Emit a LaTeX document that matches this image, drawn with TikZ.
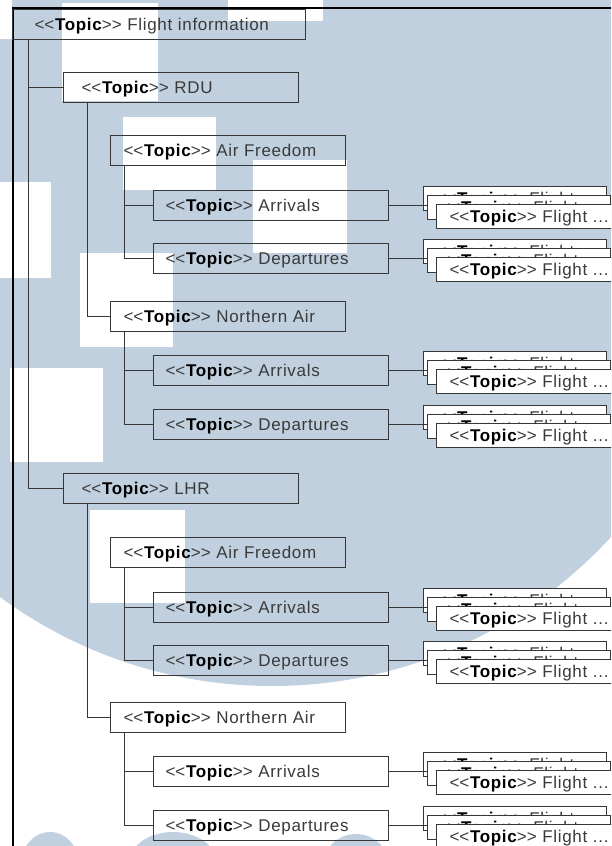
\documentclass[tikz,border=0pt]{standalone}
\usepackage{fontspec}
\setmainfont{Liberation Sans}[LetterSpace=4]
\definecolor{wmblue}{RGB}{192,208,222}
\definecolor{boxline}{RGB}{55,55,55}
\definecolor{txtgray}{RGB}{58,58,58}
\newcommand\labelfont{\fontsize{17}{20}\selectfont}
\newcommand\topiclabel[1]{\mbox{<\kern0pt<\textbf{\textcolor{black}{Topic}}>\kern0pt> #1}}

\tikzset{
  topicbox/.style={draw=boxline, line width=1pt, rectangle, minimum height=30pt,
    inner ysep=0pt, text height=13pt, text depth=1pt, align=left,
    font=\labelfont, text=txtgray},
  rootbox/.style={topicbox, text width=249pt, inner xsep=22pt},
  airportbox/.style={topicbox, text width=199pt, inner xsep=18pt},
  airlinebox/.style={topicbox, text width=209pt, inner xsep=13pt},
  listbox/.style={topicbox, text width=211pt, inner xsep=12pt},
  flightbox/.style={topicbox, fill=white, minimum height=24pt,
    text width=157pt, inner xsep=13pt},
  conn/.style={draw=boxline, line width=1pt},
  frameline/.style={draw=black, line width=2pt},
}

\begin{document}
\begin{tikzpicture}[x=1pt,y=-1pt]
\useasboundingbox (0,0) rectangle (611,846);
\clip (0,0) rectangle (611,846);

% pale background emblem
\fill[white] (0,0) rectangle (611,846);
\fill[wmblue] (272,226) circle[radius=460];
\foreach \a/\b/\c/\d in {0/0/12/39, 62/3/158/101, 228/0/323/21,
    123/117/216/190, 253/160/347/253, 0/182/51/278, 80/253/173/347,
    10/368/103/462, 90/510/185/603}
  \fill[white] (\a,\b) rectangle (\c,\d);
\fill[wmblue] (50,862) ellipse[x radius=28, y radius=30];
\fill[wmblue] (173,865) ellipse[x radius=45, y radius=33];
\fill[wmblue] (356,868) ellipse[x radius=34, y radius=34];

% outer frame
\draw[frameline] (12.5,846) -- (12.5,8) -- (611,8);

% topic hierarchy
\node[rootbox]    (fi)   at (159,24.5)  {\topiclabel{Flight information}};
\node[airportbox] (rdu)  at (181,87.5)  {\topiclabel{RDU}};
\node[airlinebox] (af1)  at (228,150.5) {\topiclabel{Air Freedom}};
\node[listbox]    (arr1) at (271,205.5) {\topiclabel{Arrivals}};
\node[listbox]    (dep1) at (271,258.5) {\topiclabel{Departures}};
\node[airlinebox] (na1)  at (228,316.5) {\topiclabel{Northern Air}};
\node[listbox]    (arr2) at (271,370.5) {\topiclabel{Arrivals}};
\node[listbox]    (dep2) at (271,424.5) {\topiclabel{Departures}};
\node[airportbox] (lhr)  at (181,488.5) {\topiclabel{LHR}};
\node[airlinebox] (af2)  at (228,552.5) {\topiclabel{Air Freedom}};
\node[listbox]    (arr3) at (271,607.5) {\topiclabel{Arrivals}};
\node[listbox]    (dep3) at (271,660.5) {\topiclabel{Departures}};
\node[airlinebox] (na2)  at (228,717.5) {\topiclabel{Northern Air}};
\node[listbox]    (arr4) at (271,771.5) {\topiclabel{Arrivals}};
\node[listbox]    (dep4) at (271,825.5) {\topiclabel{Departures}};

% tree trunks
\coordinate (t-fi)  at ([xshift=16pt]fi.south west);
\coordinate (t-rdu) at ([xshift=24pt]rdu.south west);
\coordinate (t-lhr) at ([xshift=24pt]lhr.south west);
\coordinate (t-af1) at ([xshift=14pt]af1.south west);
\coordinate (t-na1) at ([xshift=14pt]na1.south west);
\coordinate (t-af2) at ([xshift=14pt]af2.south west);
\coordinate (t-na2) at ([xshift=14pt]na2.south west);

\draw[conn] (t-fi) |- (lhr.west);
\draw[conn] (t-fi |- rdu.west) -- (rdu.west);
\draw[conn] (t-rdu) |- (na1.west);
\draw[conn] (t-lhr) |- (na2.west);
\draw[conn] (t-af1) |- (dep1.west);
\draw[conn] (t-af1 |- arr1.west) -- (arr1.west);
\draw[conn] (t-na1) |- (dep2.west);
\draw[conn] (t-na1 |- arr2.west) -- (arr2.west);
\draw[conn] (t-af2) |- (dep3.west);
\draw[conn] (t-af2 |- arr3.west) -- (arr3.west);
\draw[conn] (t-na2) |- (dep4.west);
\draw[conn] (t-na2 |- arr4.west) -- (arr4.west);

% stacked flight entries
\foreach \src in {arr1,dep1,arr2,dep2,arr3,dep3,arr4,dep4}{
  \node[flightbox] (\src-back)  at ([shift={(244,-7)}]\src.center) {\topiclabel{Flight ...}};
  \node[flightbox] (\src-mid)   at ([shift={(248,2)}]\src.center)  {\topiclabel{Flight ...}};
  \node[flightbox] (\src-front) at ([shift={(257,11)}]\src.center) {\topiclabel{Flight ...}};
  \draw[conn] (\src.east) -- (\src.east -| \src-mid.west);
}
\end{tikzpicture}
\end{document}
